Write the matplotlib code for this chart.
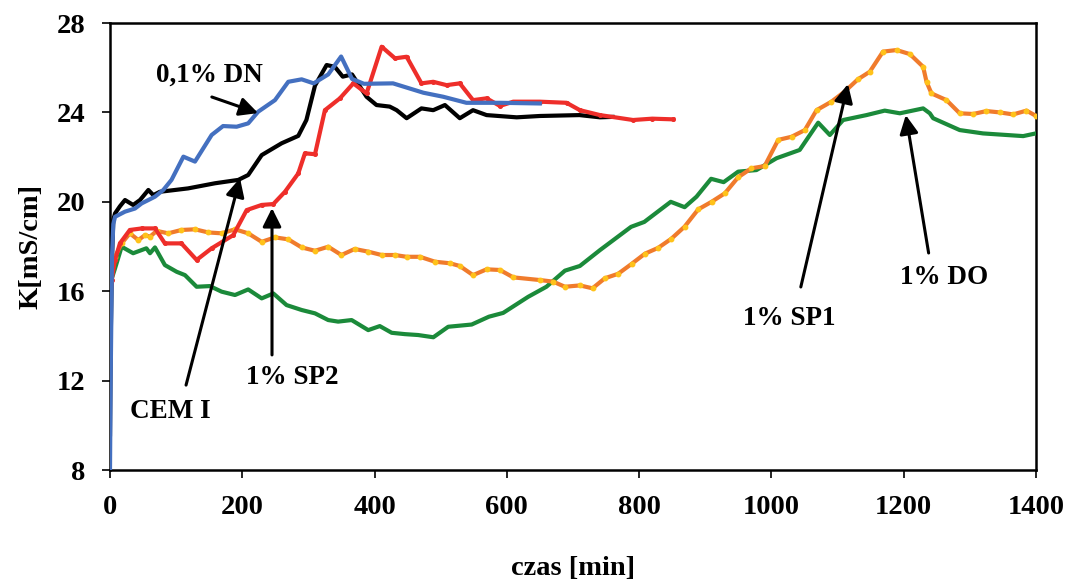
import numpy as np
import matplotlib
matplotlib.use("Agg")
import matplotlib.pyplot as plt

plt.rcParams['font.family'] = ['Liberation Serif', 'DejaVu Serif']
plt.rcParams['font.weight'] = 'bold'

# CEM I (black)
cem_x = [0, 1, 3, 5, 7.6, 15, 22.7, 35, 45.4, 58, 65.5, 75.6, 118, 158.8, 194, 209, 229.4,
         259.6, 284.7, 297, 310, 327.6, 340, 352, 366, 388, 403, 423, 433.5, 448.6, 471,
         488.8, 506.5, 529, 549, 569.5, 615, 650, 710, 741, 760]
cem_y = [9.6, 13.7, 17.5, 19.2, 19.48, 19.8, 20.08, 19.86, 20.08, 20.53, 20.3, 20.45, 20.6,
         20.83, 20.98, 21.2, 22.09, 22.62, 22.95, 23.66, 25.2, 26.12, 26.04, 25.6, 25.7, 24.7,
         24.33, 24.26, 24.1, 23.74, 24.18, 24.1, 24.33, 23.74, 24.1, 23.88, 23.78, 23.84,
         23.88, 23.78, 23.8]

# 0,1% DN (blue)
dn_x = [0, 1, 3, 5, 7.6, 22.7, 37.8, 47.9, 58, 68, 80.6, 93, 111, 128.5, 153.7, 171, 191.5,
        209, 224, 249.5, 269.6, 289.8, 308, 330, 349.5, 366, 384, 428, 474, 504, 539, 590, 650]
dn_y = [8, 12, 17.5, 19, 19.33, 19.56, 19.7, 19.93, 20.08, 20.23, 20.53, 20.98, 22.02, 21.8,
        22.99, 23.39, 23.36, 23.51, 24.03, 24.55, 25.37, 25.48, 25.3, 25.7, 26.5, 25.5, 25.28,
        25.3, 24.88, 24.7, 24.43, 24.43, 24.4]

# 1% SP2 (red)
sp2_x = [0, 2.5, 7.6, 15, 30, 48, 68, 83, 108, 131, 153.7, 186.4, 206.7, 229.4, 247, 264.6,
         284.7, 294.8, 310, 325, 347.7, 368, 388, 410.8, 431, 448.6, 471, 488.8, 509, 529, 549,
         569.5, 589.7, 609.8, 650, 690.5, 710.6, 741, 791, 820, 851.7]
sp2_y = [15.3, 16.5, 17.4, 18.14, 18.74, 18.81, 18.81, 18.14, 18.14, 17.4, 17.92, 18.51,
         19.63, 19.86, 19.9, 20.45, 21.27, 22.17, 22.13, 24.1, 24.63, 25.3, 24.85, 26.94,
         26.42, 26.49, 25.3, 25.37, 25.22, 25.3, 24.55, 24.63, 24.29, 24.48, 24.48, 24.43,
         24.1, 23.88, 23.66, 23.72, 23.69]

# 1% SP1 (orange / yellow dots)
sp1_x = [0, 7.6, 17.6, 30, 42.8, 53, 60.5, 70.6, 88, 108, 128.5, 148.6, 168.8, 189, 209,
         229.4, 249.5, 269.6, 289.8, 310, 330, 350, 370, 390.5, 410.8, 431, 448.6, 468.7,
         491.4, 514, 529, 549, 569.5, 589.7, 609.8, 650, 670, 688, 710.6, 729.7, 748.4, 768.5,
         788.7, 809, 829, 849, 869, 889.5, 909.7, 929.8, 950, 970, 990, 1010.5, 1030.7,
         1050.8, 1068.5, 1091, 1111, 1131, 1149, 1169, 1189.5, 1209.6, 1229.7, 1234.8,
         1242.3, 1265, 1285, 1305.3, 1325.5, 1345.6, 1365.7, 1386, 1400]
sp1_y = [17.0, 17.54, 18.14, 18.59, 18.29, 18.51, 18.44, 18.7, 18.59, 18.74, 18.77, 18.63,
         18.59, 18.77, 18.59, 18.21, 18.41, 18.32, 17.96, 17.81, 17.99, 17.62, 17.89, 17.77,
         17.62, 17.62, 17.54, 17.54, 17.32, 17.25, 17.13, 16.72, 16.98, 16.95, 16.62, 16.5,
         16.43, 16.2, 16.26, 16.13, 16.58, 16.78, 17.22, 17.68, 17.94, 18.35, 18.89, 19.66,
         20.0, 20.38, 21.1, 21.5, 21.6, 22.77, 22.91, 23.21, 24.1, 24.48, 24.93, 25.48, 25.82,
         26.72, 26.79, 26.61, 26.04, 25.37, 24.85, 24.55, 23.96, 23.93, 24.06, 24.0, 23.91,
         24.08, 23.85]

# 1% DO (green)
do_x = [0, 3, 7.6, 17.6, 35, 55, 60.5, 68, 83, 100.8, 113.4, 131, 151, 168.8, 189, 209,
        229.4, 247, 267, 289.8, 310, 330, 345, 365.4, 390.5, 408, 426, 446, 466, 489, 511.5,
        547, 573, 594.6, 632.4, 660, 688, 710.6, 741, 788, 808, 848, 869, 887, 909, 928, 950,
        977.6, 1008, 1043, 1071, 1088.6, 1108.7, 1144, 1171.6, 1194.5, 1229.7, 1239.8,
        1244.8, 1285, 1320.3, 1381, 1400]
do_y = [16.2, 16.6, 17.02, 17.99, 17.7, 17.92, 17.7, 17.96, 17.17, 16.87, 16.72, 16.2, 16.23,
        15.98, 15.83, 16.08, 15.68, 15.9, 15.38, 15.16, 15.01, 14.71, 14.64, 14.71, 14.26,
        14.44, 14.14, 14.08, 14.04, 13.94, 14.41, 14.51, 14.86, 15.03, 15.75, 16.2, 16.92,
        17.13, 17.84, 18.88, 19.1, 20.0, 19.76, 20.23, 21.03, 20.88, 21.35, 21.42, 21.95,
        22.32, 23.54, 22.99, 23.66, 23.88, 24.08, 23.96, 24.18, 23.96, 23.74, 23.21, 23.06,
        22.94, 23.06]

fig = plt.figure(figsize=(10.69, 5.81), dpi=100)
ax = fig.add_axes([0.1029, 0.191, 0.866, 0.7694])

lw = 3.0
ax.plot(cem_x, cem_y, color='black', lw=lw, zorder=2, solid_joinstyle='round')
ax.plot(do_x, do_y, color='#1b8a3a', lw=lw, zorder=3, solid_joinstyle='round')
ax.plot(sp1_x, sp1_y, color='#f07b2c', lw=lw, marker='o', ms=3.2,
        mfc='#ffc21a', mec='#ffc21a', zorder=4, solid_joinstyle='round')
ax.plot(sp2_x, sp2_y, color='#ee2e2a', lw=lw, marker='o', ms=2.6, zorder=5,
        solid_joinstyle='round')
ax.plot(dn_x, dn_y, color='#4470c0', lw=lw, zorder=6, solid_joinstyle='round')

ax.set_xlim(0, 1400)
ax.set_ylim(8, 28)
ax.set_xticks(np.arange(0, 1401, 200))
ax.set_yticks(np.arange(8, 29, 4))
ax.tick_params(direction='out', length=6, width=1.2, labelsize=20.5, pad=12)
for s in ax.spines.values():
    s.set_linewidth(1.8)

ax.set_xlabel('czas [min]', fontsize=20.5, fontweight='bold', labelpad=26)
ax.set_ylabel('K[mS/cm]', fontsize=20.5, fontweight='bold', labelpad=9)

# annotations: (label, text pos, arrow tail, arrow head)
labels = ['0,1% DN', 'CEM I', '1% SP2', '1% SP1', '1% DO']
text_pos = [(151, 25.67), (90.7, 10.6), (275, 12.12), (1026.6, 14.8), (1261, 16.6)]
tails = [(154, 24.69), (115, 11.8), (245, 13.15), (1044.7, 16.19), (1238, 17.71)]
heads = [(224, 23.97), (196.6, 21.06), (245, 19.72), (1116, 25.27), (1203.5, 23.88)]

for lab, tp, tl, hd in zip(labels, text_pos, tails, heads):
    ax.text(tp[0], tp[1], lab, fontsize=19.5, fontweight='bold', ha='center', va='center',
            zorder=8)
    ax.annotate('', xy=hd, xytext=tl,
                arrowprops=dict(arrowstyle='-|>', color='black', lw=2.2,
                                mutation_scale=28, shrinkA=0, shrinkB=0),
                zorder=9)

fig.savefig('out.png', dpi=100)
